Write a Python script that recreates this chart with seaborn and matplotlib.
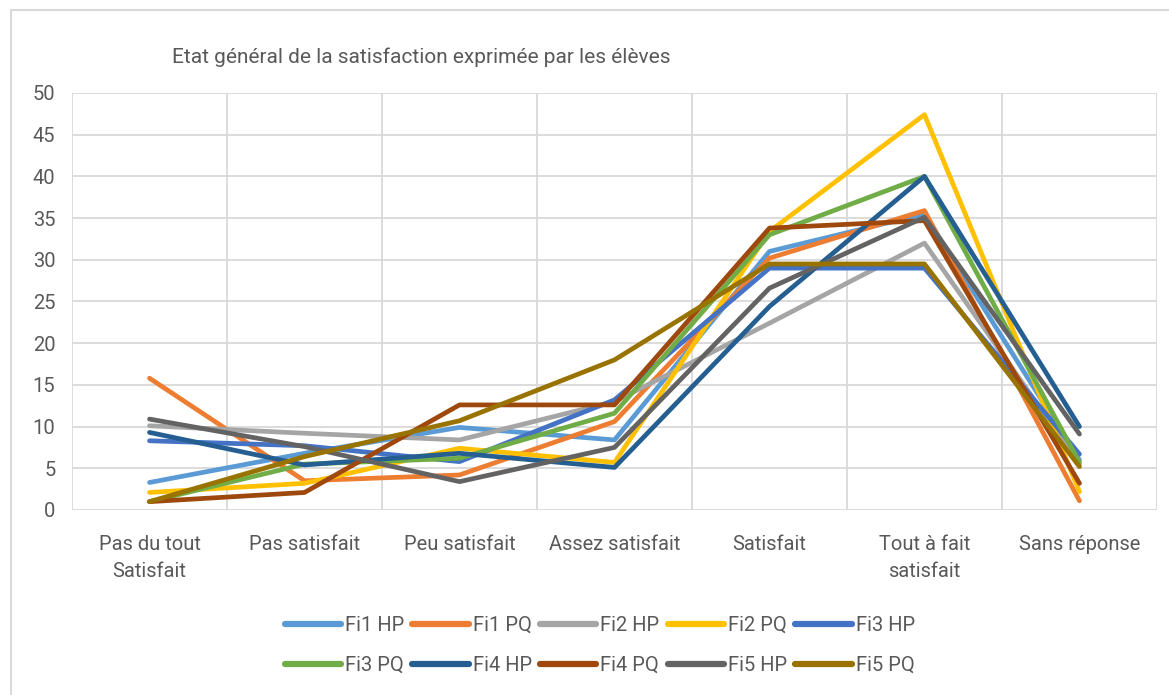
import pandas as pd
import seaborn as sns
import matplotlib.pyplot as plt
from matplotlib.patches import Rectangle

# Catégories de satisfaction (axe x)
categories = ['Pas du tout\nSatisfait', 'Pas satisfait', 'Peu satisfait', 'Assez satisfait',
              'Satisfait', 'Tout à fait\nsatisfait', 'Sans réponse']

# Valeurs (%)
fi1_hp = [3.3, 6.8, 9.9, 8.4, 31.0, 35.5, 6.0]
fi1_pq = [15.8, 3.5, 4.2, 10.6, 30.2, 35.9, 1.1]
fi2_hp = [10.1, 9.2, 8.4, 13.0, 22.4, 32.0, 5.5]
fi2_pq = [2.1, 3.2, 7.4, 5.7, 33.4, 47.4, 2.2]
fi3_hp = [8.3, 7.7, 5.8, 13.2, 29.0, 29.0, 6.7]
fi3_pq = [1.0, 5.5, 6.2, 11.6, 33.0, 40.0, 5.7]
fi4_hp = [9.3, 5.4, 6.8, 5.1, 24.4, 40.0, 10.0]
fi4_pq = [1.0, 2.1, 12.6, 12.6, 33.8, 34.7, 3.2]
fi5_hp = [10.9, 7.6, 3.4, 7.5, 26.6, 35.1, 9.1]
fi5_pq = [1.0, 6.4, 10.7, 18.0, 29.5, 29.5, 5.2]

series = {
    'Fi1 HP': fi1_hp, 'Fi1 PQ': fi1_pq, 'Fi2 HP': fi2_hp, 'Fi2 PQ': fi2_pq,
    'Fi3 HP': fi3_hp, 'Fi3 PQ': fi3_pq, 'Fi4 HP': fi4_hp, 'Fi4 PQ': fi4_pq,
    'Fi5 HP': fi5_hp, 'Fi5 PQ': fi5_pq,
}
couleurs = ['#5B9BD5', '#ED7D31', '#A5A5A5', '#FFC000', '#4472C4',
            '#70AD47', '#255E91', '#9E480E', '#636363', '#997300']

# Tableau long pour seaborn
rows = []
for nom, vals in series.items():
    for i, v in enumerate(vals):
        rows.append({'pos': i, 'valeur': v, 'serie': nom})
df = pd.DataFrame(rows)

sns.set_style('white')
plt.rcParams['font.family'] = ['Roboto', 'DejaVu Sans']
gris = '#595959'

fig = plt.figure(figsize=(11.69, 6.95), dpi=100)
ax = fig.add_axes([0.0616, 0.2662, 0.9281, 0.6000])

sns.lineplot(data=df, x='pos', y='valeur', hue='serie', palette=couleurs,
             hue_order=list(series.keys()), sort=False, linewidth=3.4,
             ax=ax, legend=False)
for ln in ax.get_lines():
    ln.set_solid_joinstyle('round')
    ln.set_solid_capstyle('round')

ax.set_xlim(-0.5, len(categories) - 0.5)
ax.set_ylim(0, 50)
ax.set_yticks(range(0, 51, 5))
ax.set_xticks(range(len(categories)))
ax.set_xticklabels(categories, linespacing=1.55)
ax.set_xticks([i - 0.5 for i in range(len(categories) + 1)], minor=True)
ax.tick_params(axis='both', which='both', length=0, colors=gris, labelsize=14.5)
ax.tick_params(axis='x', pad=18)
ax.tick_params(axis='y', pad=12)
ax.grid(axis='y', which='major', color='#d9d9d9', linewidth=1.3)
ax.grid(axis='x', which='minor', color='#d9d9d9', linewidth=1.3)
ax.set_axisbelow(True)
for s in ax.spines.values():
    s.set_visible(False)
ax.set_xlabel('')
ax.set_ylabel('')

# Titre
fig.text(0.147, 0.918, 'Etat général de la satisfaction exprimée par les élèves',
         fontsize=15, color=gris, ha='left', va='center')

# Légende sur deux lignes (ordre ligne par ligne)
handles = [plt.Line2D([], [], color=c, linewidth=4.5, solid_capstyle='round') for c in couleurs]
labels = list(series.keys())
ordre = [0, 5, 1, 6, 2, 7, 3, 8, 4, 9]
fig.legend([handles[i] for i in ordre], [labels[i] for i in ordre], ncol=5,
           loc='center', bbox_to_anchor=(0.513, 0.071), frameon=False,
           fontsize=14.5, labelcolor=gris, handlelength=2.8, handletextpad=0.2,
           columnspacing=0.4, labelspacing=1.05)

# Cadre du graphique
fig.patches.append(Rectangle((0.009, -0.01), 1.0, 0.996, transform=fig.transFigure,
                             fill=False, edgecolor='#d9d9d9', linewidth=1.5))

fig.savefig('out.png', dpi=100)
